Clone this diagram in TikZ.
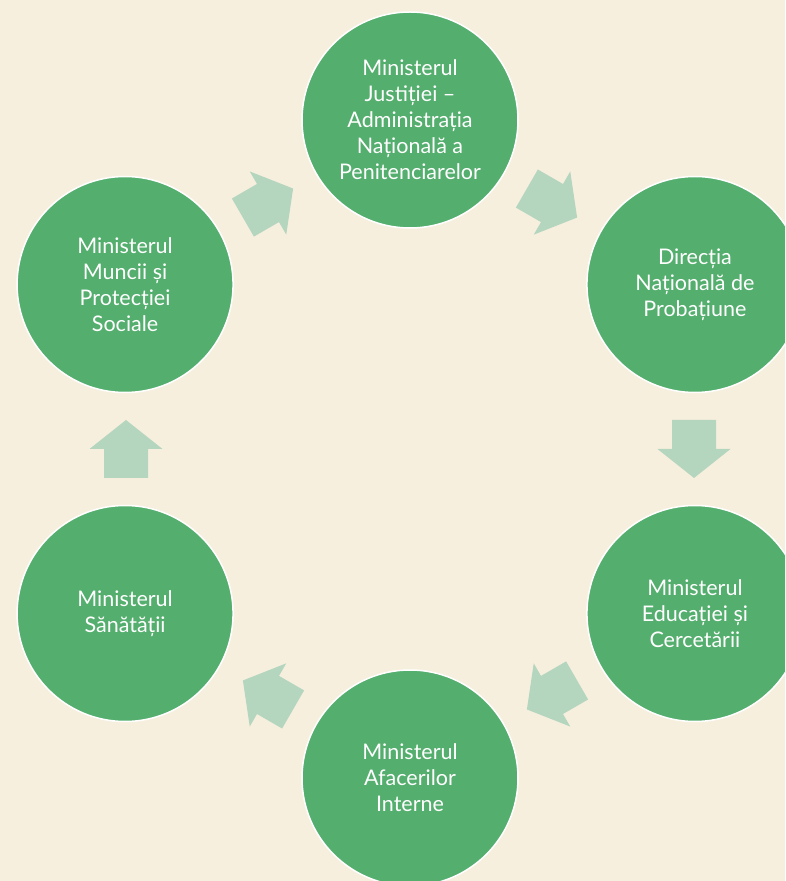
\documentclass[tikz,border=0pt]{standalone}
\usepackage{fontspec}
\setmainfont{Lato}
\usetikzlibrary{calc}
\definecolor{bgc}{RGB}{247,239,222}
\definecolor{circc}{RGB}{84,174,110}
\definecolor{arrc}{RGB}{180,213,190}
\tikzset{
  ministry/.style={circle, minimum size=216pt, inner sep=0pt, fill=circc, draw=white, line width=1.5pt,
    text=white, align=center, font=\fontsize{21.5}{26}\selectfont},
  blockarrow/.style={fill=arrc}
}
\begin{document}
\begin{tikzpicture}[x=1pt,y=1pt]
\fill[bgc] (0,0) rectangle (785,881);
\useasboundingbox (0,0) rectangle (785,881);
\coordinate (C) at (410,432);
\begin{scope}
\clip (0,0) rectangle (785,881);
\node[ministry] (anp) at ($(C)+(90:329)$) {Ministerul\\Justiției –\\Administrația\\Națională a\\Penitenciarelor};
\node[ministry] (dnp) at ($(C)+(30:329)$) {Direcția\\Națională de\\Probațiune};
\node[ministry] (mec) at ($(C)+(-30:329)$) {Ministerul\\Educației și\\Cercetării};
\node[ministry] (mai) at ($(C)+(-90:329)$) {Ministerul\\Afacerilor\\Interne};
\node[ministry] (ms) at ($(C)+(-150:329)$) {Ministerul\\Sănătății};
\node[ministry] (mmps) at ($(C)+(150:329)$) {Ministerul\\Muncii și\\Protecției\\Sociale};
\foreach \a in {60,0,-60,-120,180,120}{
  \fill[blockarrow, shift={(C)}, rotate=\a, shift={(284,0)}, rotate=-90]
    (-29,-22) -- (0,-22) -- (0,-36.5) -- (29,0) -- (0,36.5) -- (0,22) -- (-29,22) -- cycle;
}
\end{scope}
\end{tikzpicture}
\end{document}
